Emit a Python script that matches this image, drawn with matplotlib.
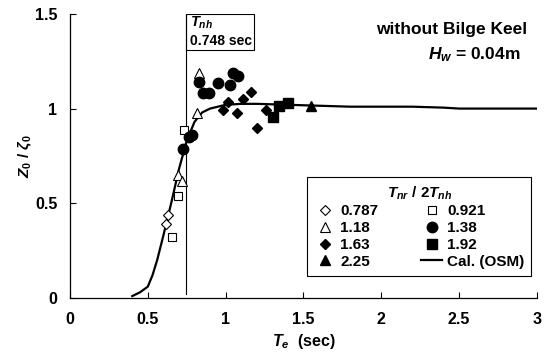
import numpy as np
import matplotlib
matplotlib.use("Agg")
import matplotlib.pyplot as plt
from matplotlib.patches import Rectangle

plt.rcParams['font.family'] = ['Liberation Sans', 'DejaVu Sans']
plt.rcParams['font.weight'] = 'bold'
plt.rcParams['mathtext.fontset'] = 'custom'
plt.rcParams['mathtext.rm'] = 'Liberation Sans:bold'
plt.rcParams['mathtext.it'] = 'Liberation Sans:italic:bold'
plt.rcParams['mathtext.bf'] = 'Liberation Sans:bold'

# measured points, grouped by T_nr / 2T_nh
x_0787 = [0.630, 0.617]
y_0787 = [0.44, 0.39]
x_0921 = [0.655, 0.694, 0.732]
y_0921 = [0.32, 0.54, 0.885]
x_118 = [0.694, 0.720, 0.816, 0.829]
y_118 = [0.65, 0.62, 0.977, 1.19]
x_138 = [0.726, 0.764, 0.784, 0.829, 0.854, 0.893, 0.950, 1.028, 1.047, 1.079]
y_138 = [0.787, 0.85, 0.86, 1.14, 1.08, 1.08, 1.135, 1.125, 1.19, 1.17]
x_163 = [0.983, 1.015, 1.073, 1.111, 1.162, 1.200, 1.259]
y_163 = [0.99, 1.035, 0.977, 1.05, 1.09, 0.90, 0.99]
x_192 = [1.304, 1.342, 1.400]
y_192 = [0.955, 1.014, 1.03]
x_225 = [1.548]
y_225 = [1.014]

# calculation (OSM)
x_cal = [0.40, 0.45, 0.50, 0.53, 0.56, 0.60, 0.65, 0.70, 0.75, 0.80, 0.85, 0.90,
         1.0, 1.1, 1.2, 1.4, 1.6, 1.8, 2.0, 2.2, 2.4, 2.5, 2.6, 3.0]
y_cal = [0.01, 0.03, 0.06, 0.12, 0.20, 0.33, 0.50, 0.68, 0.83, 0.93, 0.98, 1.00,
         1.02, 1.025, 1.025, 1.02, 1.015, 1.01, 1.01, 1.01, 1.005, 1.0, 1.0, 1.0]

T_nh = 0.748

fig = plt.figure(figsize=(5.49, 3.56), dpi=100)
ax = fig.add_axes([0.1275, 0.163, 0.8505, 0.798])

h_cal, = ax.plot(x_cal, y_cal, color='black', lw=1.6, label='Cal. (OSM)', zorder=2)
h1, = ax.plot(x_0787, y_0787, 'D', ms=5, mfc='white', mec='black', mew=0.8, ls='none', label='0.787', zorder=3)
h2, = ax.plot(x_0921, y_0921, 's', ms=6, mfc='white', mec='black', mew=0.8, ls='none', label='0.921', zorder=3)
h3, = ax.plot(x_118, y_118, '^', ms=7, mfc='white', mec='black', mew=0.8, ls='none', label='1.18', zorder=3)
h4, = ax.plot(x_138, y_138, 'o', ms=7.5, color='black', ls='none', label='1.38', zorder=3)
h5, = ax.plot(x_163, y_163, 'D', ms=5.5, color='black', ls='none', label='1.63', zorder=3)
h6, = ax.plot(x_192, y_192, 's', ms=6.5, color='black', ls='none', label='1.92', zorder=3)
h7, = ax.plot(x_225, y_225, '^', ms=7, color='black', ls='none', label='2.25', zorder=3)

# T_nh marker line and box
ax.plot([T_nh, T_nh], [0.02, 1.5], color='black', lw=0.8, zorder=1)
ax.add_patch(Rectangle((T_nh, 1.31), 0.437, 0.19, fill=False, ec='black', lw=0.8, zorder=4))
ax.text(T_nh + 0.02, 1.455, r'$T_{nh}$', fontsize=10.5, va='center', ha='left')
ax.text(T_nh + 0.02, 1.355, '0.748 sec', fontsize=10, fontweight='bold', va='center', ha='left')

ax.text(2.935, 1.415, 'without Bilge Keel', fontsize=12.5, fontweight='bold', ha='right', va='center')
ax.text(2.897, 1.283, r'$H_{w}$ = 0.04m', fontsize=12.5, fontweight='bold', ha='right', va='center')

ax.set_xlim(0, 3)
ax.set_ylim(0, 1.5)
ax.set_xticks([0, 0.5, 1, 1.5, 2, 2.5, 3])
ax.set_xticklabels(['0', '0.5', '1', '1.5', '2', '2.5', '3'])
ax.set_yticks([0, 0.5, 1, 1.5])
ax.set_yticklabels(['0', '0.5', '1', '1.5'])
ax.tick_params(direction='in', length=4, width=0.8, labelsize=11.5, pad=10)
ax.tick_params(axis='y', pad=9)
for s in ['top', 'right']:
    ax.spines[s].set_visible(False)
for s in ['left', 'bottom']:
    ax.spines[s].set_linewidth(0.9)

ax.set_xlabel(r'$T_{e}$  (sec)', fontsize=11.5, fontweight='bold', labelpad=3.5)
ax.set_ylabel(r'$Z_0$ / $\zeta_0$', fontsize=11, fontweight='bold', labelpad=1)

handles = [h1, h3, h5, h7, h2, h4, h6, h_cal]
leg = ax.legend(handles=handles, labels=[h.get_label() for h in handles], ncol=2,
                title=r'$T_{nr}$ / 2$T_{nh}$', loc='lower right',
                bbox_to_anchor=(1.004, 0.052), fontsize=11, title_fontsize=11,
                frameon=True, fancybox=False, edgecolor='black', framealpha=1,
                handlelength=1.4, handletextpad=0.3, columnspacing=2.8,
                labelspacing=0.18, borderpad=0.45)
leg.get_frame().set_linewidth(0.8)

fig.savefig('out.png', dpi=100)
